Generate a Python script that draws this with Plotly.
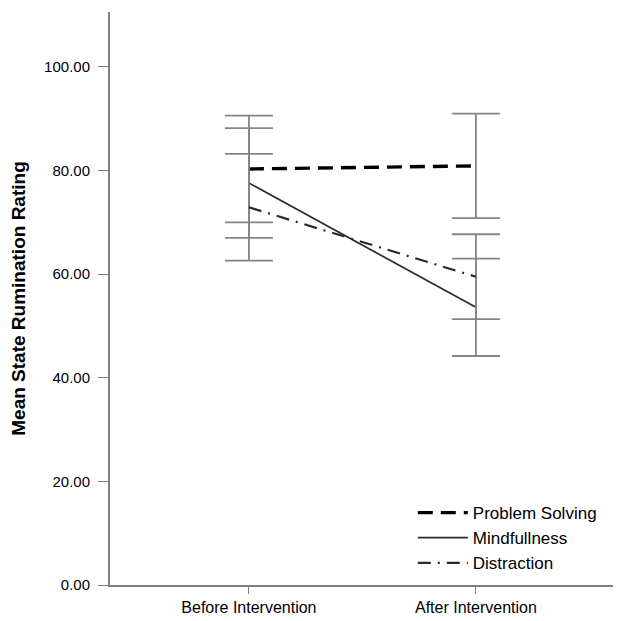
import plotly.graph_objects as go

# Mean state rumination ratings with error bars
timepoints = ["Before Intervention", "After Intervention"]
groups = ["Problem Solving", "Mindfullness", "Distraction"]

problem_solving = [80.3, 80.9]
problem_solving_err = [10.3, 10.1]

mindfullness = [77.6, 53.6]
mindfullness_err = [10.6, 9.4]

distraction = [72.9, 59.5]
distraction_err = [10.3, 8.2]

y_ticks = [0, 20, 40, 60, 80, 100]

styles = {
    "Problem Solving": dict(color="black", width=3.4, dash="15px,8px"),
    "Mindfullness": dict(color="#2a2a2a", width=1.7, dash="solid"),
    "Distraction": dict(color="#2a2a2a", width=2.2, dash="13px,7px,2px,7px"),
}

series = [
    (groups[0], problem_solving, problem_solving_err),
    (groups[1], mindfullness, mindfullness_err),
    (groups[2], distraction, distraction_err),
]

fig = go.Figure()

for name, vals, errs in series:
    fig.add_trace(go.Scatter(
        x=[0, 1],
        y=vals,
        mode="lines",
        name=name,
        line=styles[name],
        error_y=dict(type="data", array=errs, visible=True,
                     color="#858585", thickness=1.8, width=24),
    ))

fig.update_layout(
    width=624,
    height=621,
    margin=dict(l=102, r=19, t=4, b=44),
    paper_bgcolor="white",
    plot_bgcolor="white",
    font=dict(family="Liberation Sans, Arial, sans-serif", color="black"),
    legend=dict(
        x=0.602, y=0.157, xanchor="left", yanchor="top",
        font=dict(size=17), bgcolor="rgba(0,0,0,0)",
        tracegroupgap=0, itemwidth=50,
    ),
    showlegend=True,
)

fig.update_xaxes(
    range=[-0.612, 1.604],
    tickvals=[0, 1],
    ticktext=timepoints,
    showgrid=False,
    zeroline=False,
    showline=True,
    linecolor="#808080",
    linewidth=2,
    ticks="outside",
    ticklen=7,
    tickcolor="#808080",
    tickfont=dict(size=16),
    automargin=False,
)

fig.update_yaxes(
    range=[0, 110.6],
    tickvals=y_ticks,
    ticktext=[f"{v:.2f}" for v in y_ticks],
    showgrid=False,
    zeroline=False,
    showline=True,
    linecolor="#808080",
    linewidth=2,
    ticks="outside",
    ticklen=10,
    tickcolor="#808080",
    tickfont=dict(size=15),
    ticklabelstandoff=5,
    automargin=False,
    title=dict(text="<b>Mean State Rumination Rating</b>", font=dict(size=19), standoff=18),
)

fig.write_html("out.html")
